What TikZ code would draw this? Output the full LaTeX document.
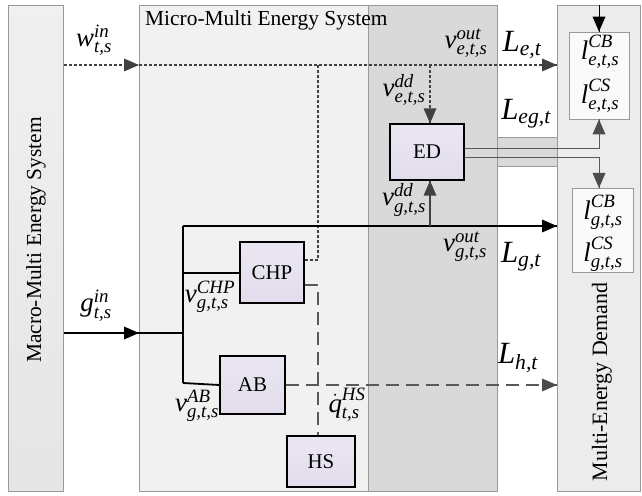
\documentclass[tikz,border=0pt]{standalone}
\usepackage{amsmath}
\usepackage{fontspec}
\setmainfont{Liberation Serif}
\usetikzlibrary{arrows.meta}
\definecolor{lav}{RGB}{226,220,236}
\newcommand{\lb}[3]{$\textit{#1}^{\textit{#2}}_{\textit{#3}}$}
\begin{document}
\begin{tikzpicture}[x=1bp,y=-1bp,
  panel/.style={draw=gray!80, line width=0.8bp, inner sep=0pt, anchor=north west},
  comp/.style={draw=black, line width=1.3bp, top color=lav!70, bottom color=lav, minimum width=#1, inner sep=0pt, font=\fontsize{21}{24}\selectfont},
  dbox/.style={draw=gray!80, line width=0.8bp, fill=white!96!gray, inner sep=0pt, minimum width=60bp},
  lab/.style={font=\fontsize{27}{30}\selectfont, inner sep=0pt},
  Lab/.style={font=\fontsize{31}{34}\selectfont, inner sep=0pt},
  dot/.style={draw=black!75, line width=1.4bp, dash pattern=on 3bp off 2bp},
  dsh/.style={draw=black!65, line width=1.4bp, dash pattern=on 13bp off 7bp},
  sol/.style={draw=black, line width=1.8bp},
  thin/.style={draw=black!65, line width=0.9bp},
]
\useasboundingbox (0,0) rectangle (642,496);
% panels
\node[panel, minimum width=55bp, minimum height=486bp, top color=gray!12, bottom color=gray!20] (macro) at (8,5) {};
\node[panel, fill=gray!11, minimum width=358bp, minimum height=486bp] (micro) at (139,5) {};
\node[panel, fill=gray!30, minimum width=129bp, minimum height=486bp] (dark) at (368,5) {};
\node[panel, fill=gray!15, minimum width=83bp, minimum height=486bp] (dem) at (557,5) {};
\node[rotate=90, font=\fontsize{21.5}{24}\selectfont] (macrot) at (36,240) {Macro-Multi Energy System};
\node[rotate=90, font=\fontsize{22}{24}\selectfont] (demt) at (602,382) {Multi-Energy Demand};
\node[anchor=west, font=\fontsize{21.5}{24}\selectfont, inner sep=0pt] (microt) at (145,20) {Micro-Multi Energy System};
% band
\node[panel, fill=gray!30, minimum width=60bp, minimum height=29bp] (band) at (497,137) {};
% components
\node[comp=74bp, minimum height=56bp] (ED) at (427,152) {ED};
\node[comp=64bp, minimum height=61bp] (CHP) at (272,272.5) {CHP};
\node[comp=65bp, minimum height=58bp] (AB) at (252.5,385) {AB};
\node[comp=68bp, minimum height=51bp] (HS) at (321,461.5) {HS};
% demand boxes
\node[dbox, minimum height=87bp] (d1) at (599,75.5) {};
\node[dbox, minimum width=61bp, minimum height=84bp] (d2) at (602.5,230) {};
% coordinates
\coordinate (wi) at (139,65);
\coordinate (gi) at (139,333);
\coordinate (busT) at (183,226);
\coordinate (busM) at (183,273);
\coordinate (busG) at (183,333);
\coordinate (busB) at (183,383);
\coordinate (eTap) at (430,65);
\coordinate (gTap) at (430,226);
\coordinate (chpTop) at (318,65);
\coordinate (dTop) at (599,5);
% electricity (dotted)
\draw[dot] (macro.east |- wi) -- (wi);
\fill[black!75] (wi) -- ++(-15,-6.5) -- ++(0,13) -- cycle;
\draw[dot] (wi) -- (dem.west |- wi);
\fill[black!75] (dem.west |- wi) -- ++(-15,-6.5) -- ++(0,13) -- cycle;
\draw[dot] (eTap) -- (eTap |- ED.north);
\fill[black!75] (eTap |- ED.north) -- ++(-6.5,-15) -- ++(13,0) -- cycle;
\draw[dot] (CHP.east |- 0,260) -- (chpTop |- 0,260) -- (chpTop);
% gas (solid)
\draw[sol] (macro.east |- gi) -- (gi);
\fill[black] (gi) -- ++(-15,-6.5) -- ++(0,13) -- cycle;
\draw[sol] (gi) -- (busG);
\draw[sol] (busT) -- (busB);
\draw[sol] (busT) -- (dem.west |- busT);
\fill[black] (dem.west |- busT) -- ++(-15,-6.5) -- ++(0,13) -- cycle;
\draw[sol] (busM) -- (CHP.west |- busM);
\draw[sol] (busB) -- (AB.west);
\draw[black!75, line width=1.6bp] (gTap) -- (gTap |- ED.south);
\fill[black!75] (gTap |- ED.south) -- ++(-6.5,15) -- ++(13,0) -- cycle;
% ED outputs
\draw[thin] (ED.east |- 0,148) -- (599,148) -- (d1.south);
\fill[black!70] (d1.south) -- ++(-6.5,15) -- ++(13,0) -- cycle;
\draw[thin] (ED.east |- 0,157) -- (599,157) -- (599,188);
\fill[black!70] (599,188) -- ++(-6.5,-15) -- ++(13,0) -- cycle;
% top arrow into d1
\draw[line width=1bp] (dTop) -- (d1.north);
\fill[black] (d1.north) -- ++(-6.5,-15) -- ++(13,0) -- cycle;
% heat (dashed)
\draw[dsh] (CHP.east |- 0,285) -- (chpTop |- 0,285) -- (chpTop |- HS.north);
\draw[dsh] (AB.east) -- (dem.west |- AB.east);
\fill[black!70] (dem.west |- AB.east) -- ++(-15,-6.5) -- ++(0,13) -- cycle;
% labels
\node[lab] (lw) at (94,40) {\lb{w}{in}{t,s}};
\node[lab] (lveo) at (466,43) {\lb{v}{out}{e,t,s}};
\node[Lab] (lLe) at (522,45) {$\textit{L}_{\textit{e,t}}$};
\node[lab] (lved) at (404,90) {\lb{v}{dd}{e,t,s}};
\node[Lab] (lLeg) at (526,114) {$\textit{L}_{\textit{eg,t}}$};
\node[lab] (lce) at (600,52) {\lb{l}{CB}{e,t,s}};
\node[lab] (lse) at (600,96) {\lb{l}{CS}{e,t,s}};
\node[lab] (lvgd) at (404,200) {\lb{v}{dd}{g,t,s}};
\node[lab] (lcg) at (603,212) {\lb{l}{CB}{g,t,s}};
\node[lab] (lsg) at (603,254) {\lb{l}{CS}{g,t,s}};
\node[lab] (lvgo) at (465,247) {\lb{v}{out}{g,t,s}};
\node[Lab] (lLg) at (521,257) {$\textit{L}_{\textit{g,t}}$};
\node[lab] (lchp) at (210,297) {\lb{v}{CHP}{g,t,s}};
\node[lab] (lg) at (96,306) {\lb{g}{in}{t,s}};
\node[lab] (lab) at (197,406) {\lb{v}{AB}{g,t,s}};
\node[lab] (lq) at (347,405) {$\dot{\textit{q}}^{\textit{HS}}_{\textit{t,s}}$};
\node[Lab] (lLh) at (518,358) {$\textit{L}_{\textit{h,t}}$};
\end{tikzpicture}
\end{document}
